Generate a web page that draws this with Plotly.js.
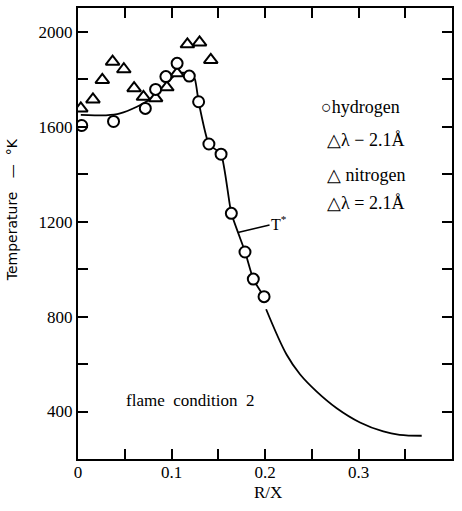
<!DOCTYPE html>
<html>
<head>
<meta charset="utf-8">
<script src="https://cdn.plot.ly/plotly-3.0.1.min.js"></script>
<style>html,body{margin:0;padding:0;background:#fff;}#chart{width:462px;height:511px;}</style>
</head>
<body>
<div id="chart"></div>
<script>
// hydrogen (circles)
const hydrogenX = [0.004, 0.038, 0.072, 0.083, 0.094, 0.106, 0.119, 0.129, 0.140, 0.153, 0.164, 0.1786, 0.1875, 0.199];
const hydrogenY = [1605, 1622, 1677, 1757, 1811, 1867, 1813, 1705, 1527, 1484, 1235, 1072, 958, 884];
// nitrogen (triangles)
const nitrogenX = [0.003, 0.016, 0.026, 0.037, 0.049, 0.060, 0.070, 0.083, 0.095, 0.106, 0.117, 0.130, 0.142];
const nitrogenY = [1677, 1715, 1797, 1874, 1842, 1762, 1726, 1720, 1766, 1825, 1947, 1955, 1881];
// fitted curve T*: measured part and extrapolated tail
const curveX = [0.003, 0.03, 0.045, 0.063, 0.075, 0.09, 0.103, 0.112, 0.12, 0.125, 0.129, 0.140, 0.153, 0.164, 0.1786, 0.1875, 0.199];
const curveY = [1650, 1648, 1656, 1684, 1710, 1760, 1815, 1828, 1822, 1800, 1705, 1527, 1484, 1235, 1074, 958, 884];
const tailX = [0.2012, 0.2232, 0.2374, 0.2553, 0.2767, 0.3016, 0.3265, 0.344, 0.3676];
const tailY = [831, 639, 557, 484, 414, 354, 316, 302, 298];
// ticks
const xTickVals = [0, 0.05, 0.1, 0.15, 0.2, 0.25, 0.3, 0.35, 0.4];
const xTickText = ['0', ' ', '0.1', ' ', '0.2', ' ', '0.3', ' ', '0.4'];
const yTickVals = [200, 400, 600, 800, 1000, 1200, 1400, 1600, 1800, 2000];
const yTickText = [' ', '400', ' ', '800', ' ', '1200', ' ', '1600', ' ', '2000'];
const legendLines = ['○hydrogen', '△λ − 2.1Å', '△ nitrogen', '△λ = 2.1Å'];
const legendY = [1683, 1544, 1397, 1279];

const serif = 'Times New Roman';

const traces = [
  {x: curveX, y: curveY, mode: 'lines', type: 'scatter', line: {color: '#000', width: 1.8, shape: 'spline', smoothing: 0.5}, showlegend: false, hoverinfo: 'skip'},
  {x: tailX, y: tailY, mode: 'lines', type: 'scatter', line: {color: '#000', width: 1.8, shape: 'spline', smoothing: 1}, showlegend: false, hoverinfo: 'skip'},
  {x: nitrogenX, y: nitrogenY, mode: 'markers', type: 'scatter', name: 'nitrogen',
   marker: {symbol: 'triangle-up', size: 12, color: '#fff', line: {color: '#000', width: 2}}, showlegend: false},
  {x: hydrogenX, y: hydrogenY, mode: 'markers', type: 'scatter', name: 'hydrogen',
   marker: {symbol: 'circle', size: 11, color: '#fff', line: {color: '#000', width: 2}}, showlegend: false}
];

const annotations = [];
legendLines.forEach((t, i) => {
  annotations.push({x: i === 0 ? 0.258 : 0.264, y: legendY[i], xref: 'x', yref: 'y', text: t, showarrow: false, xanchor: 'left',
    font: {family: serif, size: 18, color: '#000'}});
});
annotations.push({x: 0.171, y: 1154, xref: 'x', yref: 'y', ax: 0.215, ay: 1195, axref: 'x', ayref: 'y',
  text: 'T<sup>*</sup>', showarrow: true, arrowhead: 0, arrowwidth: 1.5, arrowcolor: '#000',
  font: {family: serif, size: 16, color: '#000'}});
annotations.push({x: 0.12, y: 445, xref: 'x', yref: 'y', text: 'flame  condition  2', showarrow: false,
  font: {family: serif, size: 17, color: '#000'}});
annotations.push({x: -0.176, y: 0.552, xref: 'paper', yref: 'paper', xanchor: 'center', yanchor: 'middle',
  text: 'Temperature   —  °K', textangle: -90, showarrow: false,
  font: {family: 'DejaVu Sans', size: 14, color: '#000'}});
annotations.push({x: 0.508, y: -0.074, xref: 'paper', yref: 'paper', xanchor: 'center', yanchor: 'middle',
  text: 'R/X', showarrow: false,
  font: {family: serif, size: 17, color: '#000'}});

const axisCommon = {
  showgrid: false, zeroline: false, showline: true, linecolor: '#000', linewidth: 2,
  ticks: 'inside', ticklen: 10, tickwidth: 2, tickcolor: '#000', mirror: 'ticks',
  tickfont: {family: serif, size: 17, color: '#000'}
};

const layout = {
  width: 462, height: 511,
  margin: {l: 78, r: 10, t: 8, b: 52},
  font: {family: serif, color: '#000'},
  paper_bgcolor: '#fff', plot_bgcolor: '#fff',
  xaxis: Object.assign({}, axisCommon, {range: [0, 0.4], tickmode: 'array', tickvals: xTickVals, ticktext: xTickText, ticklabelstandoff: -3}),
  yaxis: Object.assign({}, axisCommon, {range: [200, 2100], tickmode: 'array', tickvals: yTickVals, ticktext: yTickText}),
  annotations: annotations,
  showlegend: false
};

Plotly.newPlot('chart', traces, layout, {displayModeBar: false, staticPlot: true});
</script>
</body>
</html>
